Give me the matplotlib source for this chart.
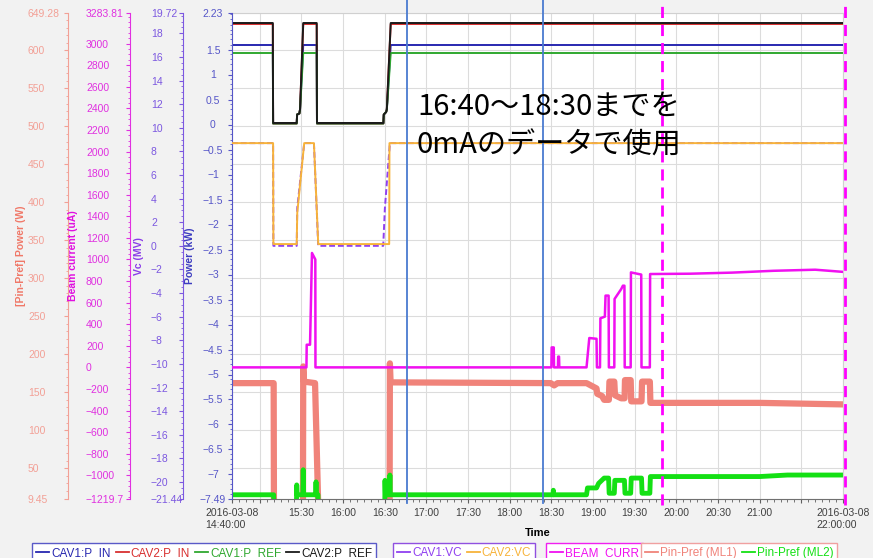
import matplotlib.pyplot as plt
from matplotlib.lines import Line2D
from matplotlib.ticker import FixedLocator, FixedFormatter, MultipleLocator

plt.rcParams['font.family'] = ['Liberation Sans', 'DejaVu Sans']

# ---- data (time in minutes after 2016-03-08 14:40:00) ----
# CAV1/CAV2 forward and reflected power, kW
t_pwr = [0, 29.4, 29.6, 46.6, 46.9, 48.5, 49.0, 51.3, 61.0, 61.2, 109.0, 109.3, 111.0, 111.5, 114.3, 440]
cav2_ref = [2.03, 2.03, 0.03, 0.03, 0.2, 0.22, 0.3, 2.03, 2.03, 0.03, 0.03, 0.2, 0.25, 0.3, 2.03, 2.03]
cav2_in = [2.01, 2.01, 0.02, 0.02, 0.2, 0.22, 0.3, 2.01, 2.01, 0.02, 0.02, 0.2, 0.25, 0.3, 2.01, 2.01]
cav1_in = [1.59, 1.59, 0.02, 0.02, 0.2, 0.22, 0.3, 1.59, 1.59, 0.02, 0.02, 0.2, 0.25, 0.3, 1.59, 1.59]
cav1_ref = [1.43, 1.43, 0.02, 0.02, 0.2, 0.22, 0.3, 1.43, 1.43, 0.02, 0.02, 0.2, 0.25, 0.3, 1.43, 1.43]

# cavity voltages, MV
t_vc1 = [0, 29.6, 29.8, 46.6, 47.0, 52.0, 59.0, 62.1, 108.9, 110.1, 113.7, 440]
cav1_vc = [8.7, 8.7, 0.0, 0.0, 3.2, 8.7, 8.7, 0.0, 0.0, 3.2, 8.7, 8.7]
t_vc2 = [0, 29.6, 29.8, 46.6, 47.0, 52.0, 59.0, 62.1, 113.2, 113.4, 440]
cav2_vc = [8.7, 8.7, 0.15, 0.15, 2.8, 8.7, 8.7, 0.15, 0.15, 8.7, 8.7]

# beam current, uA
t_beam = [0, 53.6, 53.8, 56.2, 57.6, 60.0, 60.1, 230.0, 230.2, 231.7, 231.9, 234.7, 234.9, 235.5, 235.7,
          255.3, 257.3, 262.5, 262.8, 265.0, 265.3, 268.5, 269.0, 271.2, 271.4,
          275.3, 275.5, 280.3, 281.5, 282.6, 282.8, 287.1, 287.3, 294.7, 294.9,
          300.9, 301.1, 330, 360, 390, 420, 440]
beam_curr = [0, 0, 210, 210, 1060, 1000, 0, 0, 185, 185, 0, 0, 100, 100, 0,
             0, 272, 265, 0, 0, 455, 470, 665, 665, 0,
             0, 634, 726, 757, 757, 0, 0, 880, 860, 0,
             0, 865, 868, 878, 895, 905, 885]

# Pin-Pref, W
t_ml1 = [0, 30.0, 30.2, 51.1, 51.3, 51.8, 59.8, 62.1, 113.5, 113.7, 114.2, 229.5, 232.0, 234.5,
         255.3, 262.5, 263.0, 266.5, 268.0, 271.4, 271.8, 275.3, 275.8, 280.3, 282.7, 283.0,
         287.1, 287.5, 294.9, 295.3, 300.9, 301.3, 380, 440]
ml1 = [162, 162, 0, 0, 184, 164, 162, 0, 0, 188, 163, 162, 159, 162,
       162, 155, 148, 145, 140, 140, 164, 164, 146, 142, 142, 166,
       166, 138, 138, 164, 164, 136, 136, 134]
t_ml2 = [0, 30.0, 30.2, 46.4, 46.6, 46.9, 51.0, 51.3, 51.6, 60.2, 60.5, 60.8, 61.9, 62.1,
         110.0, 110.2, 110.5, 113.4, 113.7, 114.0, 231.2, 231.4, 231.6,
         255.3, 256.0, 262.5, 264.0, 268.0, 271.2, 271.6, 275.3, 275.7, 282.6, 283.0,
         287.1, 287.5, 294.9, 295.3, 300.9, 301.3, 380, 400, 440]
ml2 = [15, 15, 0, 0, 28, 15, 15, 48, 15, 15, 32, 15, 15, 0,
       0, 34, 15, 15, 41, 15, 15, 21, 15,
       15, 24, 24, 30, 37, 37, 17, 17, 34, 34, 17,
       17, 37, 37, 17, 17, 39, 39, 41, 41]

x_ticks = [0, 20, 50, 80, 110, 140, 170, 200, 230, 260, 290, 320, 350, 380, 410, 440]
x_labels = ['2016-03-08\n14:40:00', '', '15:30', '16:00', '16:30', '17:00', '17:30', '18:00',
            '18:30', '19:00', '19:30', '20:00', '20:30', '21:00', '', '2016-03-08\n22:00:00']
blue_marks = [126, 224]
pink_marks = [310, 441.3]


def lab(v):
    return ('%g' % v).replace('-', '\u2212')


pp_ticks = [9.45] + list(range(50, 601, 50)) + [649.28]
bc_ticks = [-1219.7] + list(range(-1000, 3001, 200)) + [3283.81]
vc_ticks = [-21.44] + list(range(-20, 19, 2)) + [19.72]
pw_ticks = [-7.49] + [k * 0.5 for k in range(-14, 4)] + [2.23]

# ---- layout ----
W, H = 873, 558
L, R, T, B = 232, 843, 13, 499
fig = plt.figure(figsize=(W / 100, H / 100), dpi=100, facecolor='#f2f2f2')
ax = fig.add_axes([L / W, 1 - B / H, (R - L) / W, (B - T) / H])
ax.set_facecolor('white')
ax_pw = ax.twinx()
ax_vc = ax.twinx()
ax_bc = ax.twinx()

c_pin1, c_pin2, c_ref1, c_ref2 = '#2828b0', '#d83030', '#30a830', '#1a1a1a'
c_vc1, c_vc2, c_beam = '#9040f0', '#f7b33a', '#f010f0'
c_ml1, c_ml2 = '#f0837a', '#14e014'

ax.plot(t_ml1, ml1, color=c_ml1, lw=4.5)
ax.plot(t_ml2, ml2, color=c_ml2, lw=3.5)
ax_pw.plot(t_pwr, cav1_in, color=c_pin1, lw=1.4)
ax_pw.plot(t_pwr, cav2_in, color=c_pin2, lw=1.4)
ax_pw.plot(t_pwr, cav1_ref, color=c_ref1, lw=1.4)
ax_pw.plot(t_pwr, cav2_ref, color=c_ref2, lw=1.4)
ax_vc.plot(t_vc1, cav1_vc, color=c_vc1, lw=1.4, ls=(0, (3, 1.5)))
ax_vc.plot(t_vc2, cav2_vc, color=c_vc2, lw=1.4)
ax_bc.plot(t_beam, beam_curr, color=c_beam, lw=1.8)

ax.set_xlim(0, 440)
ax.xaxis.set_major_locator(FixedLocator(x_ticks))
ax.xaxis.set_major_formatter(FixedFormatter(x_labels))
ax.xaxis.set_minor_locator(MultipleLocator(5))
ax.tick_params(axis='x', which='major', length=3, labelsize=7.5, labelcolor='#404040', color='#606060')
ax.tick_params(axis='x', which='minor', length=2, color='#606060')
plt.setp(ax.get_xticklabels(), multialignment='left')
ax.set_xlabel('Time', fontweight='bold', fontsize=8)
ax.xaxis.set_label_coords(0.5, -(533 - B) / (B - T))
ax.xaxis.label.set_va('center')
ax.grid(True, which='major', color='#dcdcdc', lw=0.8)
ax.set_axisbelow(True)

# y axes: (axes, lo, hi, ticks, minor, spine x px, label anchor px, ha, colour, title colour, title, title x px)
specs = [
    (ax, 9.45, 649.28, pp_ticks, 10, 68, 28, 'left', '#f2a096', '#f07868', '[Pin-Pref] Power (W)', 21),
    (ax_bc, -1219.7, 3283.81, bc_ticks, 50, 130, 86, 'left', '#e030e0', '#e010e0', 'Beam current (uA)', 73),
    (ax_vc, -21.44, 19.72, vc_ticks, 0.5, 183, 151, 'left', '#7c58e0', '#8a3ce8', 'Vc (MV)', 139),
    (ax_pw, -7.49, 2.23, pw_ticks, 0.1, 232, 213, 'center', '#5656c8', '#3c3cc0', 'Power (kW)', 190),
]
for a, lo, hi, ticks, minor, sx, lx, ha, col, lcol, title, tx in specs:
    a.set_ylim(lo, hi)
    a.yaxis.tick_left()
    a.yaxis.set_label_position('left')
    if a is not ax:
        for s in ('top', 'bottom', 'right'):
            a.spines[s].set_visible(False)
    a.spines['left'].set_visible(True)
    a.spines['left'].set_position(('axes', (sx - L) / (R - L)))
    a.spines['left'].set_color(col)
    a.yaxis.set_major_locator(FixedLocator(ticks))
    a.yaxis.set_major_formatter(FixedFormatter([lab(v) for v in ticks]))
    a.yaxis.set_minor_locator(MultipleLocator(minor))
    pad = (sx - lx - 4) * 0.72
    a.tick_params(axis='y', which='major', direction='out', length=2.9, pad=pad,
                  labelsize=7.5, colors=col)
    a.tick_params(axis='y', which='minor', direction='out', length=1.5, color=col)
    plt.setp(a.get_yticklabels(), ha=ha)
    a.set_ylabel(title, color=lcol, fontweight='bold', fontsize=7.5)
    a.yaxis.set_label_coords((tx - L) / (R - L), 0.5)
    a.yaxis.label.set_va('center')
for s in ('top', 'right'):
    ax.spines[s].set_color('#d0d0d0')
ax.spines['bottom'].set_color('#707070')

# overlay marker lines
for xm in blue_marks:
    ax_bc.axvline(xm, ymin=-(503 - B) / (B - T), ymax=B / (B - T), color='#4a7bd0', lw=1.3, clip_on=False)
for xm in pink_marks:
    ax_bc.axvline(xm, ymin=-(505 - B) / (B - T), ymax=B / (B - T), color='#ff00ff', lw=2,
                  ls=(0, (4, 2.5)), clip_on=False)

jp = ['Noto Sans CJK JP', 'DejaVu Sans']
fig.text(417 / W, 1 - 115 / H, '16:40〜18:30までを', fontsize=21, family=jp, va='baseline')
fig.text(417 / W, 1 - 154 / H, '0mAのデータで使用', fontsize=21, family=jp, va='baseline')

# legends
groups = [
    ([('CAV1:P_IN', c_pin1), ('CAV2:P_IN', c_pin2), ('CAV1:P_REF', c_ref1), ('CAV2:P_REF', c_ref2)], '#5a5ac8', 32),
    ([('CAV1:VC', c_vc1), ('CAV2:VC', c_vc2)], '#9050e0', 393),
    ([('BEAM_CURR', c_beam)], '#f020f0', 546),
    ([('Pin-Pref (ML1)', c_ml1), ('Pin-Pref (ML2)', c_ml2)], '#f0a0a0', 641),
]
for items, ec, x0 in groups:
    handles = [Line2D([], [], color=c, lw=1.3) for _, c in items]
    lg = fig.legend(handles, [n for n, _ in items], loc='upper left', bbox_to_anchor=(x0 / W, 1 - 543 / H),
                    ncol=len(items), frameon=True, fancybox=False, edgecolor=ec, facecolor='white',
                    framealpha=1, fontsize=8.5, handlelength=1.1, handletextpad=0.15, columnspacing=0.45,
                    borderpad=0.35, borderaxespad=0, labelcolor=[c for _, c in items])
    lg.get_frame().set_linewidth(1.0)

fig.savefig('out.png', dpi=100, facecolor=fig.get_facecolor())
